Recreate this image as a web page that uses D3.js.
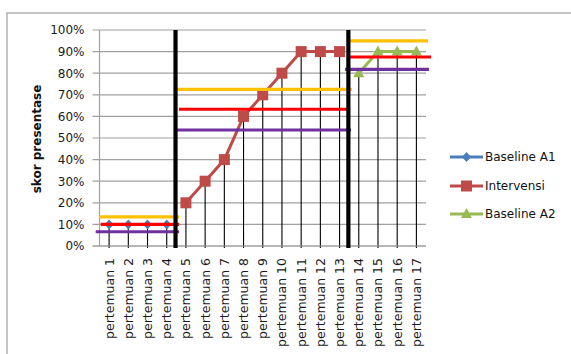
<!DOCTYPE html>
<html>
<head>
<meta charset="utf-8">
<script src="https://cdn.jsdelivr.net/npm/d3@7"></script>
<style>
  html, body { margin: 0; padding: 0; background: #fff; }
  svg { display: block; font-family: "DejaVu Sans", sans-serif; }
</style>
</head>
<body>
<div id="chart"></div>
<script>
// Sessions (pertemuan) on the x axis
const sessions = ["pertemuan 1","pertemuan 2","pertemuan 3","pertemuan 4","pertemuan 5","pertemuan 6",
  "pertemuan 7","pertemuan 8","pertemuan 9","pertemuan 10","pertemuan 11","pertemuan 12",
  "pertemuan 13","pertemuan 14","pertemuan 15","pertemuan 16","pertemuan 17"];

// Percentage scores per phase
const baselineA1 = [0.10, 0.10, 0.10, 0.10];
const intervensi = [0.20, 0.30, 0.40, 0.60, 0.70, 0.80, 0.90, 0.90, 0.90];
const baselineA2 = [0.80, 0.90, 0.90, 0.90];

const yTicks = [0, 0.1, 0.2, 0.3, 0.4, 0.5, 0.6, 0.7, 0.8, 0.9, 1.0];

// Phase level lines: upper band, mean, lower band
const phaseUpper = [0.135, 0.725, 0.95];
const phaseMean  = [0.10, 0.633, 0.875];
const phaseLower = [0.066, 0.537, 0.818];

const seriesNames = ["Baseline A1", "Intervensi", "Baseline A2"];

// ---- layout ----
const W = 571, H = 354;
const plotL = 99.5, plotR = 426, plotT = 30, plotB = 246;

const svg = d3.select("#chart").append("svg").attr("width", W).attr("height", H);

// outer chart frame
svg.append("rect").attr("x", 7).attr("y", 13).attr("width", 600).attr("height", 400)
  .attr("fill", "none").attr("stroke", "#a6a6a6").attr("stroke-width", 1.3);

const x = d3.scaleBand().domain(sessions).range([plotL, plotR]).padding(0);
const y = d3.scaleLinear().domain([0, 1]).range([plotB, plotT]);
const cx = d => x(d) + x.bandwidth() / 2;

// horizontal gridlines (with short ticks to the left)
svg.append("g").selectAll("line").data(yTicks).join("line")
  .attr("x1", plotL - 7).attr("x2", plotR)
  .attr("y1", d => y(d)).attr("y2", d => y(d))
  .attr("stroke", "#a0a0a0").attr("stroke-width", 1.2);

// y axis line
svg.append("line").attr("x1", plotL).attr("x2", plotL).attr("y1", plotT).attr("y2", plotB)
  .attr("stroke", "#a0a0a0").attr("stroke-width", 1.2);

// y axis labels
const yAxis = d3.axisLeft(y).tickValues(yTicks).tickFormat(d3.format(".0%")).tickSize(0).tickPadding(0);
const gy = svg.append("g").attr("transform", `translate(${plotL - 15},0)`).call(yAxis);
gy.select(".domain").remove();
gy.selectAll("text").attr("font-size", 12).attr("fill", "#1a1a1a").attr("font-family", "DejaVu Sans, sans-serif");

// y axis title
svg.append("text").attr("transform", `translate(41,139) rotate(-90)`)
  .attr("text-anchor", "middle").attr("font-size", 12).attr("font-weight", "bold")
  .attr("fill", "#111").text("skor presentase");

// x axis labels
const xAxis = d3.axisBottom(x).tickSize(0).tickPadding(0);
const gx = svg.append("g").attr("transform", `translate(0,${plotB})`).call(xAxis);
gx.select(".domain").remove();
gx.selectAll("text")
  .attr("font-size", 12.5).attr("fill", "#1a1a1a").attr("font-family", "DejaVu Sans, sans-serif")
  .attr("text-anchor", "end").attr("dy", null)
  .attr("dominant-baseline", "central")
  .attr("transform", "translate(0,12) rotate(-90)")
  .attr("y", 0).attr("x", 0);

// build series with categories
const s1 = baselineA1.map((v, i) => ({ c: sessions[i], v }));
const s2 = intervensi.map((v, i) => ({ c: sessions[i + baselineA1.length], v }));
const s3 = baselineA2.map((v, i) => ({ c: sessions[i + baselineA1.length + intervensi.length], v }));
const allPts = s1.concat(s2, s3);

// drop lines from each point to the axis
svg.append("g").selectAll("line").data(allPts).join("line")
  .attr("x1", d => cx(d.c)).attr("x2", d => cx(d.c))
  .attr("y1", d => y(d.v)).attr("y2", plotB + 2)
  .attr("stroke", "#000").attr("stroke-width", 1.1);

// x axis line
svg.append("line").attr("x1", plotL - 7).attr("x2", plotR).attr("y1", plotB).attr("y2", plotB)
  .attr("stroke", "#a0a0a0").attr("stroke-width", 1.2);

const line = d3.line().x(d => cx(d.c)).y(d => y(d.v));
const colors = ["#4a7ebb", "#be4b48", "#98b954"];

function marker(g, type, color) {
  if (type === 0) {
    g.append("path").attr("d", "M0,-5 L4.5,0 L0,5 L-4.5,0 Z").attr("fill", color);
  } else if (type === 1) {
    g.append("rect").attr("x", -5.5).attr("y", -5.5).attr("width", 11).attr("height", 11).attr("fill", color);
  } else {
    g.append("path").attr("d", "M0,-6 L5.5,4 L-5.5,4 Z").attr("fill", color);
  }
}

[s1, s2, s3].forEach((s, k) => {
  svg.append("path").datum(s).attr("d", line).attr("fill", "none")
    .attr("stroke", colors[k]).attr("stroke-width", 3);
  s.forEach(p => {
    const g = svg.append("g").attr("transform", `translate(${cx(p.c)},${y(p.v)})`);
    marker(g, k, colors[k]);
  });
});

// phase boundaries (in pixels, from the band scale)
const phaseStarts = [0, baselineA1.length, baselineA1.length + intervensi.length];
const phaseEnds = [baselineA1.length, baselineA1.length + intervensi.length, sessions.length];
const bx = i => plotL + i * x.bandwidth();

// level lines per phase
const levelStyles = [
  { vals: phaseUpper, color: "#ffc000", lead: [0.5, 0.6, 1.1], trail: [2.7, 2.6, 2] },
  { vals: phaseMean,  color: "#ff0000", lead: [-1.2, -2.7, -0.9], trail: [2.7, -1.1, 5] },
  { vals: phaseLower, color: "#7030a0", lead: [3.8, 0.6, 4.1], trail: [2.7, 1.9, 3] }
];
levelStyles.forEach(st => {
  st.vals.forEach((v, p) => {
    svg.append("line")
      .attr("x1", bx(phaseStarts[p]) - st.lead[p]).attr("x2", bx(phaseEnds[p]) + st.trail[p])
      .attr("y1", y(v)).attr("y2", y(v))
      .attr("stroke", st.color).attr("stroke-width", 3.2);
  });
});

// thick phase change lines
[baselineA1.length, baselineA1.length + intervensi.length].forEach(i => {
  svg.append("line").attr("x1", bx(i) - 0.8).attr("x2", bx(i) - 0.8)
    .attr("y1", plotT).attr("y2", plotB + 2)
    .attr("stroke", "#000").attr("stroke-width", 4.2);
});

// legend
const legY = [157, 186, 214];
seriesNames.forEach((n, k) => {
  const g = svg.append("g").attr("transform", `translate(450,${legY[k]})`);
  g.append("line").attr("x1", 0).attr("x2", 33).attr("y1", 0).attr("y2", 0)
    .attr("stroke", colors[k]).attr("stroke-width", 3);
  const m = g.append("g").attr("transform", "translate(16.5,0)");
  marker(m, k, colors[k]);
  g.append("text").attr("x", 35).attr("y", 0).attr("dominant-baseline", "central")
    .attr("font-size", 12).attr("fill", "#111").text(n);
});
</script>
</body>
</html>
